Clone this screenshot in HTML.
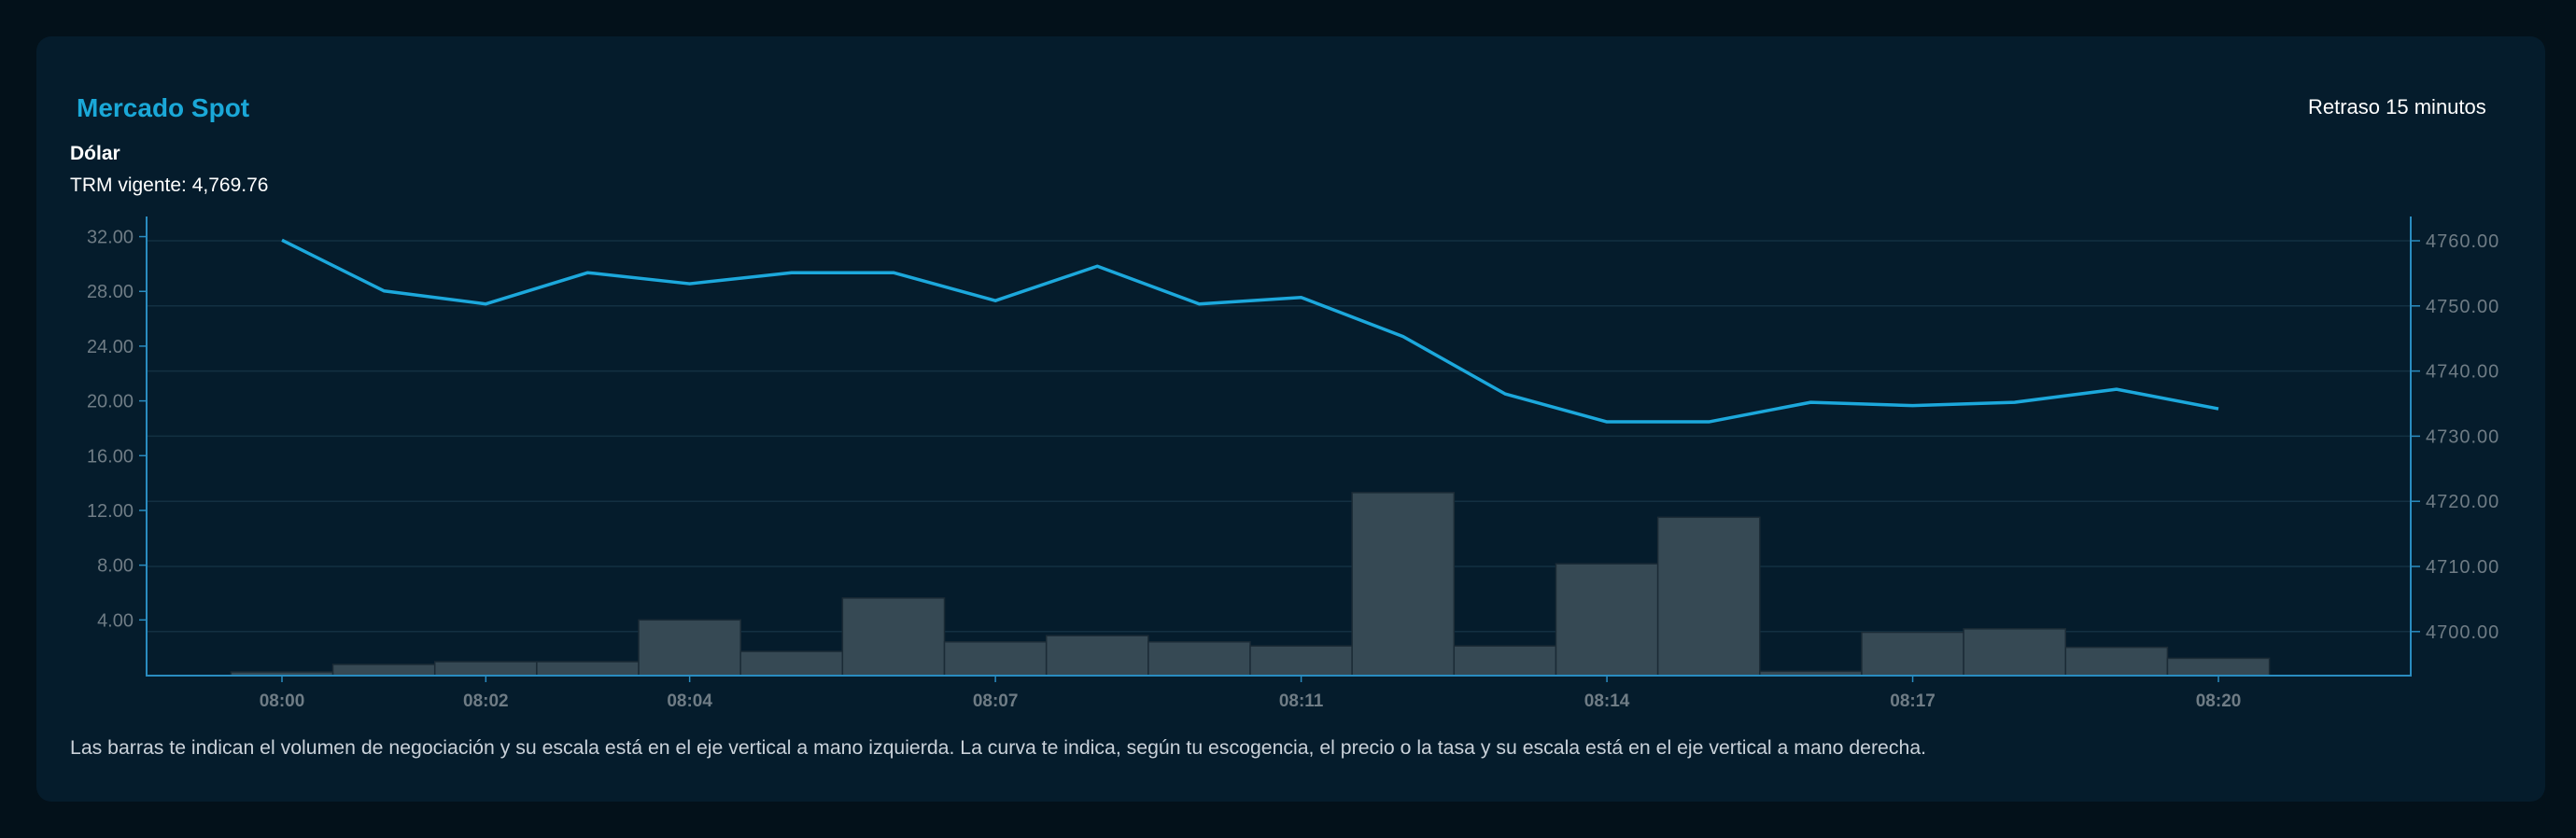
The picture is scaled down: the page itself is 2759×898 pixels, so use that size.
<!DOCTYPE html>
<html><head><meta charset="utf-8"><style>
html,body{margin:0;padding:0;background:#03111a;width:2759px;height:898px;overflow:hidden;font-family:"Liberation Sans",sans-serif}
.card{position:absolute;left:39px;top:39px;width:2687px;height:820px;background:#051c2c;border-radius:16px}
.t{position:absolute;white-space:nowrap}
</style></head><body>
<div class="card"></div>
<div class="t" style="left:82px;top:100px;font-size:28px;font-weight:bold;color:#1aa8d8">Mercado Spot</div>
<div class="t" style="left:2472px;top:102px;font-size:22px;color:#fff">Retraso 15 minutos</div>
<div class="t" style="left:75px;top:153px;font-size:21px;font-weight:bold;color:#fff">Dólar</div>
<div class="t" style="left:75px;top:187px;font-size:21px;color:#fff">TRM vigente: 4,769.76</div>
<div class="t" style="left:75px;top:789px;font-size:21.25px;color:#c9d1d9">Las barras te indican el volumen de negociación y su escala está en el eje vertical a mano izquierda. La curva te indica, según tu escogencia, el precio o la tasa y su escala está en el eje vertical a mano derecha.</div>
<svg id="chart" width="2759" height="898" style="position:absolute;left:0;top:0"></svg>
<script>
const categories=["08:00","08:01","08:02","08:03","08:04","08:05","08:06","08:07","08:08","08:10","08:11","08:12","08:13","08:14","08:15","08:16","08:17","08:18","08:19","08:20"];
const tickIdx=[0,2,4,7,10,13,16,19];
const volumes=[0.2,0.75,0.95,0.95,4.0,1.7,5.6,2.4,2.85,2.4,2.1,13.3,2.1,8.1,11.5,0.25,3.1,3.35,2.0,1.2];
const prices=[4760.1,4752.3,4750.3,4755.1,4753.4,4755.1,4755.1,4750.8,4756.1,4750.3,4751.3,4745.3,4736.5,4732.2,4732.2,4735.2,4734.7,4735.2,4737.2,4734.2];
const leftTicks=[4,8,12,16,20,24,28,32];
const rightTicks=[4700,4710,4720,4730,4740,4750,4760];
const NS="http://www.w3.org/2000/svg",svg=document.getElementById('chart');
const X0=157,X1=2582,Y0=232,YB=724;
const x=i=>302+109.16*i;
const yL=v=>723-14.67*v;
const yR=v=>258+(4760-v)*6.98;
function mk(t,a,p){const e=document.createElementNS(NS,t);for(const k in a)e.setAttribute(k,a[k]);(p||svg).appendChild(e);return e;}
rightTicks.forEach(v=>{const g=mk('line',{x1:X0,x2:X1,y1:yR(v),y2:yR(v),stroke:'#133042','stroke-width':1.5});


mk('line',{x1:X1,x2:X1+10,y1:yR(v),y2:yR(v),stroke:'#2a8cc0','stroke-width':1.5});
const t=mk('text',{x:2598,y:yR(v)+7,'font-size':20,fill:'#6f7c85','letter-spacing':'1'});t.textContent=v.toFixed(2);

});
leftTicks.forEach(v=>{mk('line',{x1:X0-8,x2:X0,y1:yL(v),y2:yL(v),stroke:'#2a8cc0','stroke-width':1.5});
const t=mk('text',{x:143,y:yL(v)+7,'font-size':20,fill:'#6f7c85','text-anchor':'end'});t.textContent=v.toFixed(2);

});
volumes.forEach((v,i)=>{const r=mk('rect',{x:x(i)-54.6,y:yL(v),width:109.16,height:YB-yL(v),fill:'#364954',stroke:'#1b2b36','stroke-width':1.5});

});
const ax=mk('path',{d:`M${X0} ${Y0}V${YB}H${X1}V${Y0}`,fill:'none',stroke:'#2a8cc0','stroke-width':2});


tickIdx.forEach(i=>{mk('line',{x1:x(i),x2:x(i),y1:YB,y2:YB+7,stroke:'#2a8cc0','stroke-width':1.5});
const t=mk('text',{x:x(i),y:757,'font-size':19,'font-weight':'bold',fill:'#6f7c85','text-anchor':'middle'});t.textContent=categories[i];

});
const ln=mk('polyline',{points:prices.map((p,i)=>x(i)+','+yR(p)).join(' '),fill:'none',stroke:'#1ca8dc','stroke-width':3.5,'stroke-linejoin':'round'});


</script>
</body></html>
